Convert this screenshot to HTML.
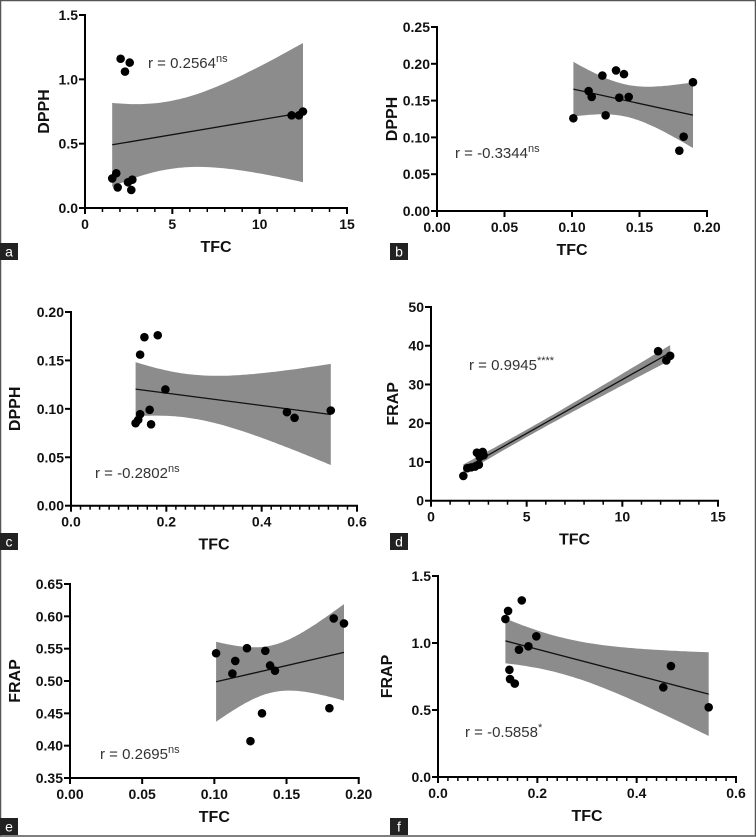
<!DOCTYPE html>
<html><head><meta charset="utf-8">
<style>
html,body{margin:0;padding:0;background:#fff;}
svg{display:block;font-family:"Liberation Sans",Arial,sans-serif;}
</style></head>
<body>
<svg id="fig" width="756" height="837" viewBox="0 0 756 837" xmlns="http://www.w3.org/2000/svg">
<rect x="0.5" y="0.5" width="755" height="835.5" fill="#fff" stroke="#555" stroke-width="1.5"/>
</svg>
<script>
// Panel a: TFC vs DPPH
const aX = [2.04,2.56,2.29,1.56,1.79,1.87,2.46,2.71,2.65,11.83,12.25,12.48];
const aY = [1.16,1.13,1.06,0.23,0.27,0.16,0.20,0.22,0.14,0.72,0.72,0.75];
const aXTicks = [0,5,10,15];
const aYTicks = [0,0.5,1.0,1.5];
// Panel b
const bX = [0.101,0.1123,0.1146,0.1225,0.1249,0.1326,0.135,0.1385,0.142,0.1795,0.1827,0.1896];
const bY = [0.126,0.163,0.155,0.184,0.130,0.191,0.154,0.186,0.155,0.082,0.101,0.175];
const bXTicks = [0,0.05,0.10,0.15,0.20];
const bYTicks = [0,0.05,0.10,0.15,0.20,0.25];
// Panel c
const cX = [0.1355,0.141,0.145,0.145,0.154,0.182,0.165,0.168,0.198,0.453,0.469,0.545];
const cY = [0.0852,0.0886,0.0945,0.156,0.174,0.176,0.099,0.084,0.120,0.0966,0.0907,0.0983];
const cXTicks = [0,0.2,0.4,0.6];
const cYTicks = [0,0.05,0.10,0.15,0.20];
// Panel d
const dX = [1.69,1.9,2.1,2.3,2.5,2.4,2.55,2.7,2.75,11.87,12.3,12.5];
const dY = [6.4,8.4,8.6,8.8,9.3,12.4,11.3,12.6,11.7,38.6,36.2,37.4];
const dXTicks = [0,5,10,15];
const dYTicks = [0,10,20,30,40,50];
// Panel e
const eX = [0.1012,0.1125,0.1145,0.1226,0.125,0.133,0.1353,0.1386,0.142,0.1797,0.1827,0.1898];
const eY = [0.5429,0.5115,0.531,0.5507,0.407,0.450,0.5466,0.524,0.516,0.458,0.5967,0.589];
const eXTicks = [0,0.05,0.10,0.15,0.20];
const eYTicks = [0.35,0.40,0.45,0.50,0.55,0.60,0.65];
// Panel f
const fX = [0.1357,0.1411,0.1687,0.1438,0.145,0.1546,0.163,0.182,0.198,0.4536,0.469,0.545];
const fY = [1.179,1.239,1.318,0.80,0.731,0.697,0.95,0.975,1.05,0.669,0.828,0.52];
const fXTicks = [0,0.2,0.4,0.6];
const fYTicks = [0,0.5,1.0,1.5];

const NS = "http://www.w3.org/2000/svg";
const svg = document.getElementById('fig');
function mk(tag, attrs, parent){
  const e = document.createElementNS(NS, tag);
  for (const k in attrs) e.setAttribute(k, attrs[k]);
  (parent||svg).appendChild(e); return e;
}
function fmt(v, d){ return v.toFixed(d); }

function panel(o){
  const g = mk('g', {});
  
  
  const xmin=o.xt[0], xmax=o.xt[o.xt.length-1], ymin=o.yt[0], ymax=o.yt[o.yt.length-1];
  const sx = v => o.x0 + (v-xmin)/(xmax-xmin)*(o.x1-o.x0);
  const sy = v => o.y0 - (v-ymin)/(ymax-ymin)*(o.y0-o.y1);
  const n = o.X.length;
  const mx = o.X.reduce((a,b)=>a+b,0)/n, my = o.Y.reduce((a,b)=>a+b,0)/n;
  let sxx=0, sxy=0; for(let i=0;i<n;i++){sxx+=(o.X[i]-mx)**2; sxy+=(o.X[i]-mx)*(o.Y[i]-my);}
  const slope = sxy/sxx, icpt = my - slope*mx;
  let sse=0; for(let i=0;i<n;i++){sse+=(o.Y[i]-icpt-slope*o.X[i])**2;}
  const s = Math.sqrt(sse/(n-2)), t = 2.228;
  const lo = Math.min(...o.X), hi = Math.max(...o.X);
  const up=[], dn=[];
  for(let k=0;k<=60;k++){
    const xv = lo + (hi-lo)*k/60;
    const yh = icpt + slope*xv;
    const h = t*s*Math.sqrt(1/n + (xv-mx)**2/sxx);
    up.push(sx(xv).toFixed(1)+','+sy(yh+h).toFixed(1));
    dn.unshift(sx(xv).toFixed(1)+','+sy(yh-h).toFixed(1));
  }
  const band = mk('polygon', {points: up.concat(dn).join(' '), fill:'#8c8c8c'}, g);
  
  
  const line = mk('line', {x1:sx(lo), y1:sy(icpt+slope*lo), x2:sx(hi), y2:sy(icpt+slope*hi), stroke:'#111', 'stroke-width':1.3}, g);
  
  
  const ax = mk('line', {x1:o.x0-1, y1:o.y0, x2:o.x1+1, y2:o.y0, stroke:'#000','stroke-width':2}, g);
  
  
  const ay = mk('line', {x1:o.x0, y1:o.y0+1, x2:o.x0, y2:o.y1-1, stroke:'#000','stroke-width':2}, g);
  
  
  if (o.minor){
    for(let v=xmin; v<=xmax+1e-9; v+=o.minor){
      const tk = mk('line', {x1:sx(v), y1:o.y0, x2:sx(v), y2:o.y0+4, stroke:'#000','stroke-width':1.5}, g);
      
      
    }
  }
  o.xt.forEach(v=>{
    const tk = mk('line', {x1:sx(v), y1:o.y0, x2:sx(v), y2:o.y0+6, stroke:'#000','stroke-width':2}, g);
    
    
    const tl = mk('text', {x:sx(v), y:o.y0+21, 'text-anchor':'middle','font-size':14,'font-weight':'bold',fill:'#111'}, g);
    tl.textContent = fmt(v, o.xd);
    
    
  });
  o.yt.forEach(v=>{
    const tk = mk('line', {x1:o.x0-6, y1:sy(v), x2:o.x0, y2:sy(v), stroke:'#000','stroke-width':2}, g);
    
    
    const tl = mk('text', {x:o.x0-7, y:sy(v)+5, 'text-anchor':'end','font-size':14,'font-weight':'bold',fill:'#111'}, g);
    tl.textContent = fmt(v, o.yd);
    
    
  });
  for(let i=0;i<n;i++){
    const c = mk('circle', {cx:sx(o.X[i]), cy:sy(o.Y[i]), r:4.3, fill:'#000'}, g);
    
    
  }
  const xtl = mk('text', {x:(o.x0+o.x1)/2, y:o.y0+44, 'text-anchor':'middle','font-size':16,'font-weight':'bold',fill:'#111'}, g);
  xtl.textContent = 'TFC';
  
  
  const ytx = o.ytx, yty = (o.y0+o.y1)/2;
  const ytl = mk('text', {x:ytx, y:yty, 'text-anchor':'middle','font-size':16,'font-weight':'bold',fill:'#111', transform:'rotate(-90 '+ytx+' '+yty+')'}, g);
  ytl.textContent = o.ylab;
  
  
  const rt = mk('text', {x:o.rx, y:o.ry, 'font-size':15, fill:'#333'}, g);
  
  
  const t1 = mk('tspan', {}, rt); t1.textContent = o.r;
  const t2 = mk('tspan', {'font-size':11, dy:-6}, rt); t2.textContent = o.sig;
  const lb = mk('rect', {x:o.lx, y:o.ly, width:18, height:17, fill:'#222'}, g);
  
  
  const lt = mk('text', {x:o.lx+9, y:o.ly+13.5, 'text-anchor':'middle','font-size':14, fill:'#fff'}, g);
  lt.textContent = o.id;
  
  
}

panel({id:'a', X:aX, Y:aY, xt:aXTicks, yt:aYTicks, xd:0, yd:1, minor:1, x0:85, x1:347, y0:208, y1:15, ytx:49, ylab:'DPPH', r:'r = 0.2564', sig:'ns', rx:148, ry:68, lx:0, ly:243});
panel({id:'b', X:bX, Y:bY, xt:bXTicks, yt:bYTicks, xd:2, yd:2, minor:0, x0:437, x1:707, y0:211, y1:27, ytx:397, ylab:'DPPH', r:'r = -0.3344', sig:'ns', rx:455, ry:158, lx:390, ly:243});
panel({id:'c', X:cX, Y:cY, xt:cXTicks, yt:cYTicks, xd:1, yd:2, minor:0.02, x0:71, x1:357, y0:505.7, y1:312, ytx:20, ylab:'DPPH', r:'r = -0.2802', sig:'ns', rx:95, ry:478, lx:0, ly:533});
panel({id:'d', X:dX, Y:dY, xt:dXTicks, yt:dYTicks, xd:0, yd:0, minor:1, x0:431, x1:718, y0:500.7, y1:307, ytx:398, ylab:'FRAP', r:'r = 0.9945', sig:'****', rx:469, ry:370, lx:390, ly:533});
panel({id:'e', X:eX, Y:eY, xt:eXTicks, yt:eYTicks, xd:2, yd:2, minor:0, x0:70, x1:358.7, y0:778, y1:584, ytx:20, ylab:'FRAP', r:'r = 0.2695', sig:'ns', rx:100, ry:759, lx:0, ly:818});
panel({id:'f', X:fX, Y:fY, xt:fXTicks, yt:fYTicks, xd:1, yd:1, minor:0.02, x0:438, x1:736, y0:777, y1:576, ytx:392, ylab:'FRAP', r:'r = -0.5858', sig:'*', rx:465, ry:737, lx:390, ly:818});
</script>
</body></html>
